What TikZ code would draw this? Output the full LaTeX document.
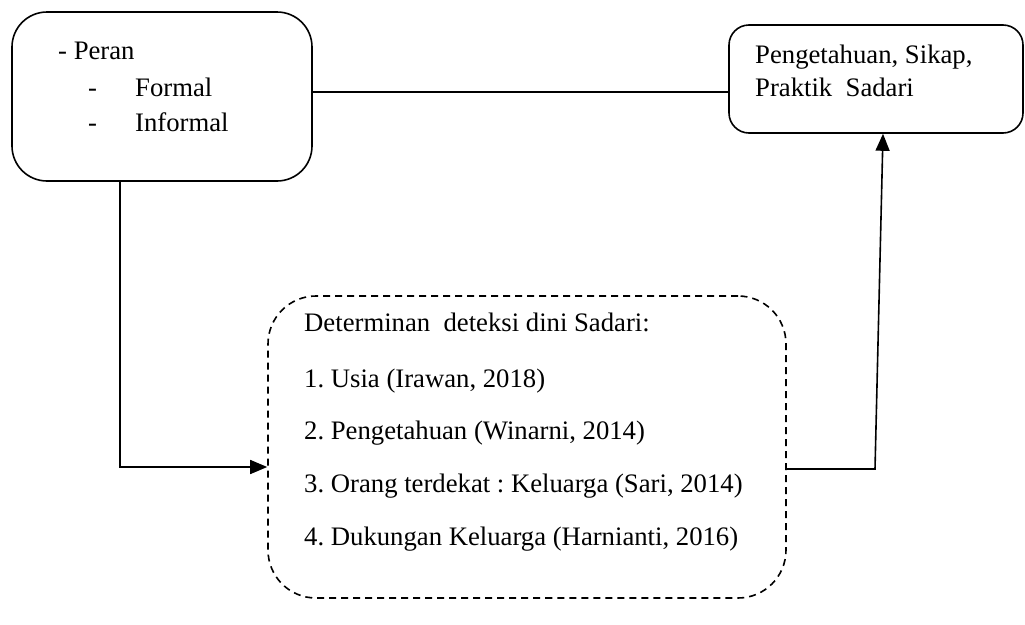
\documentclass[tikz,border=0pt]{standalone}
\usepackage{fontspec}
\setmainfont{Liberation Serif}
\usetikzlibrary{arrows.meta,calc}
\begin{document}
\frenchspacing
\begin{tikzpicture}[x=1pt,y=-1pt,
  box/.style={draw,line width=1.6pt,minimum width=#1,inner sep=0pt},
  txt/.style={anchor=base west,inner sep=0pt,font=\fontsize{26.7}{32}\selectfont},
  conn/.style={line width=1.6pt},
  arr/.style={conn,-{Triangle[length=17pt,width=14pt]}}]
\useasboundingbox (0,0) rectangle (1025,624);
% boxes
\node[box=300pt,minimum height=169pt,rounded corners=35pt] (A) at (162,96.5) {};
\node[box=294pt,minimum height=108pt,rounded corners=20pt] (B) at (876,79) {};
\node[box=518pt,minimum height=302pt,rounded corners=48pt,dash pattern=on 7pt off 5pt] (C) at (527,447) {};
% texts box A
\node[txt] (a1) at (58,59) {- Peran};
\node[txt] (a2) at (88,96) {-};
\node[txt] (a3) at (135,96) {Formal};
\node[txt] (a4) at (88,131) {-};
\node[txt] (a5) at (135,131) {Informal};
% texts box B
\node[txt] (b1) at (755,63) {Pengetahuan, Sikap,};
\node[txt] (b2) at (755,96) {Praktik\ \ Sadari};
% texts box C
\node[txt] (c0) at (304,331) {Determinan\ \ deteksi dini Sadari:};
\node[txt] (c1) at (304,387) {1. Usia (Irawan, 2018)};
\node[txt] (c2) at (304,439) {2. Pengetahuan (Winarni, 2014)};
\node[txt] (c3) at (304,492) {3. Orang terdekat : Keluarga (Sari, 2014)};
\node[txt] (c4) at (304,545) {4. Dukungan Keluarga (Harnianti, 2016)};
% connectors
\draw[conn] ($(A.east)+(0,-4.5)$) -- ($(B.west)+(0,13)$);
\draw[arr] ($(A.south)+(-42,0)$) |- ($(C.west)+(0,20)$);
\coordinate (k) at (875,469);
\draw[arr] ($(C.east)+(0,22)$) -- (k) -- ($(B.south)+(7,0)$);
\end{tikzpicture}
\end{document}
